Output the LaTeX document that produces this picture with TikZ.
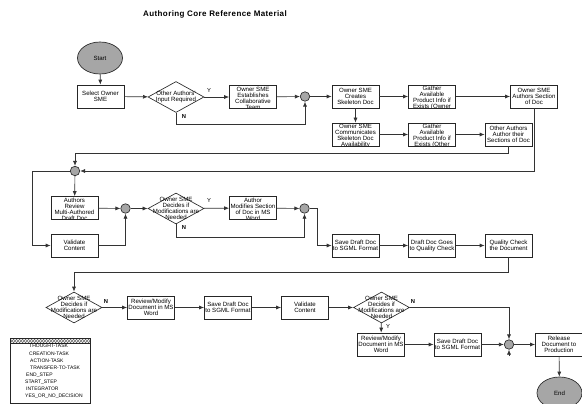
\documentclass[tikz,border=0pt]{standalone}
\usepackage{fontspec}
\setmainfont{Liberation Sans}
\usetikzlibrary{shapes.geometric,arrows.meta,patterns}
\newcommand{\tbox}[3]{%
  \node[bx, path picture={\node[boxtxt, anchor=north] at ([yshift=-0.8pt]path picture bounding box.north) {#3};}] (#1) at (#2) {};}
\begin{document}
\begin{tikzpicture}[x=1pt,y=-1pt,
 bx/.style={draw=black!85, fill=white, line width=0.65pt, minimum width=47pt, minimum height=23pt, inner sep=0.5pt, align=center, font=\fontsize{6.1}{6}\selectfont},
 boxtxt/.style={inner sep=0pt, align=center, font=\fontsize{6.1}{6}\selectfont},
 dia/.style={diamond, draw=black!85, fill=white, line width=0.65pt, minimum width=56pt, minimum height=31pt, inner sep=0pt},
 diatxt/.style={inner sep=0pt, align=center, font=\fontsize{6.1}{6.2}\selectfont},
 jn/.style={circle, draw=black!85, fill=black!35, line width=0.65pt, minimum size=9.5pt, inner sep=0pt},
 term/.style={ellipse, draw=black!85, fill=black!35, line width=0.65pt, minimum width=45pt, minimum height=32pt, inner sep=0pt, font=\fontsize{6.1}{6}\selectfont},
 arr/.style={draw=black!80, line width=0.65pt, -{Latex[length=5pt,width=4pt]}},
 ylab/.style={inner sep=0pt, font=\fontsize{5.8}{5.8}\selectfont},
 nlab/.style={inner sep=0pt, font=\fontsize{5.8}{5.8}\selectfont\bfseries},
 legtxt/.style={inner sep=0pt, anchor=west, font=\fontsize{5}{5}\selectfont},
]
\useasboundingbox (0,0) rectangle (582,404);

\node[font=\fontsize{8}{9}\selectfont\bfseries\addfontfeatures{LetterSpace=5}] (title) at (215,14) {Authoring Core Reference Material};

% row 1
\node[term] (start) at (100,58) {Start};
\node[bx] (sel) at (100.5,96.5) {Select Owner\\SME};
\node[dia] (d1) at (176,97) {};
\node[diatxt] (d1t) at (176,97) {Other Authors'\\Input Required};
\tbox{est}{253,97}{Owner SME\\Establishes\\Collaborative\\Team}
\node[jn] (j1) at (305,96.5) {};
\node[bx] (cre) at (355.5,96.5) {Owner SME\\Creates\\Skeleton Doc};
\tbox{gat1}{432,96.5}{Gather\\Available\\Product Info if\\Exists (Owner}
\node[bx] (aut) at (534,96.5) {Owner SME\\Authors Section\\of Doc};

% row 2
\tbox{com}{355.5,134.5}{Owner SME\\Communicates\\Skeleton Doc\\Availability}
\tbox{gat2}{432,134.5}{Gather\\Available\\Product Info if\\Exists (Other}
\node[bx] (oth) at (508.5,134.5) {Other Authors\\Author their\\Sections of Doc};

% row 3
\node[jn] (j2) at (75,171) {};
\tbox{rev}{74.5,208}{Authors\\Review\\Multi-Authored\\Draft Doc}
\node[jn] (j3) at (125.5,208.5) {};
\node[dia] (d2) at (176,208.5) {};
\node[diatxt] (d2t) at (176,208.5) {Owner SME\\Decides if\\Modifications are\\Needed};
\tbox{mod}{253,208}{Author\\Modifies Section\\of Doc in MS\\Word}
\node[jn] (j4) at (304.5,208.5) {};
\node[bx] (val) at (74.5,245.5) {Validate\\Content};

% row 4
\node[bx] (sav1) at (355.5,245.5) {Save Draft Doc\\to SGML Format};
\node[bx] (qc) at (432,245.5) {Draft Doc Goes\\to Quality Check};
\node[bx] (qch) at (508.5,245.5) {Quality Check\\the Document};

% row 5
\node[dia] (d3) at (74,307.5) {};
\node[diatxt] (d3t) at (74,307.5) {Owner SME\\Decides if\\Modifications are\\Needed};
\node[bx] (rm1) at (151,307.5) {Review/Modify\\Document in MS\\Word};
\node[bx] (sav2) at (228,307.5) {Save Draft Doc\\to SGML Format};
\node[bx] (val2) at (305,307.5) {Validate\\Content};
\node[dia] (d4) at (381.5,307.5) {};
\node[diatxt] (d4t) at (381.5,307.5) {Owner SME\\Decides if\\Modifications are\\Needed};

% row 6
\node[bx] (rm2) at (381,344.5) {Review/Modify\\Document in MS\\Word};
\node[bx] (sav3) at (457.5,344.5) {Save Draft Doc\\to SGML Format};
\node[jn] (j5) at (509,344.5) {};
\coordinate (j5s) at (509,356);
\node[bx] (rel) at (559,344.5) {Release\\Document to\\Production};
\node[term] (end) at (559.5,393) {End};

% connectors
\draw[arr] (start) -- (sel);
\draw[arr] (sel) -- (d1);
\draw[arr] (d1) -- (est);
\node[ylab] (y1) at (209,91) {Y};
\draw[arr] (d1.south) -- (176,124) -| (j1.south);
\node[nlab] (n1) at (184,117) {N};
\draw[arr] (est) -- (j1);
\draw[arr] (j1) -- (cre);
\draw[arr] (cre) -- (gat1);
\draw[arr] (gat1) -- (aut);
\draw[arr] (cre) -- (com);
\draw[arr] (com) -- (gat2);
\draw[arr] (gat2) -- (oth);
\draw[arr] (oth.south) -- (508.5,153) -| (j2.north);
\draw[arr] (aut.south) |- (j2.east);
\draw[arr] (j2) -- (rev);
\draw[arr] (j2.west) -- (32,171) |- (val.west);
\draw[arr] (rev) -- (j3);
\draw[arr] (val.east) -| (j3.south);
\draw[arr] (j3) -- (d2);
\draw[arr] (d2) -- (mod);
\node[ylab] (y2) at (209,201) {Y};
\draw[arr] (d2.south) -- (176,237) -| (j4.south);
\node[nlab] (n2) at (184,228) {N};
\draw[arr] (mod) -- (j4);
\draw[arr] (j4.east) -- (317,208.5) |- (sav1.west);
\draw[arr] (sav1) -- (qc);
\draw[arr] (qc) -- (qch);
\draw[arr] (qch.south) -- (508.5,272) -| (d3.north);
\draw[arr] (d3) -- (rm1);
\node[nlab] (n3) at (106,302) {N};
\draw[arr] (rm1) -- (sav2);
\draw[arr] (sav2) -- (val2);
\draw[arr] (val2) -- (d4);
\draw[arr] (d4.east) -| (j5.north);
\node[nlab] (n4) at (413,302) {N};
\draw[arr] (d4) -- (rm2);
\node[ylab] (y4) at (388,327) {Y};
\draw[arr] (rm2) -- (sav3);
\draw[arr] (sav3) -- (j5);
\draw[arr] (j5s) -- (j5.south);
\draw[arr] (j5) -- (rel);
\draw[arr] (rel) -- (end);

% legend
\draw[black!85, line width=0.65pt, fill=white] (10,338) rectangle (90,403);
\draw[black!85, line width=0.4pt, pattern=crosshatch, pattern color=black!60] (10,338) rectangle (90,343);
\node[legtxt] (l1) at (29,346) {THOUGHT-TASK};
\node[legtxt] (l2) at (29,353.5) {CREATION-TASK};
\node[legtxt] (l3) at (30,361) {ACTION-TASK};
\node[legtxt] (l4) at (30,368) {TRANSFER-TO-TASK};
\node[legtxt] (l5) at (26,375) {END\_STEP};
\node[legtxt] (l6) at (25,382) {START\_STEP};
\node[legtxt] (l7) at (26,389) {INTEGRATOR};
\node[legtxt] (l8) at (25,396.5) {YES\_OR\_NO\_DECISION};
\end{tikzpicture}
\end{document}
